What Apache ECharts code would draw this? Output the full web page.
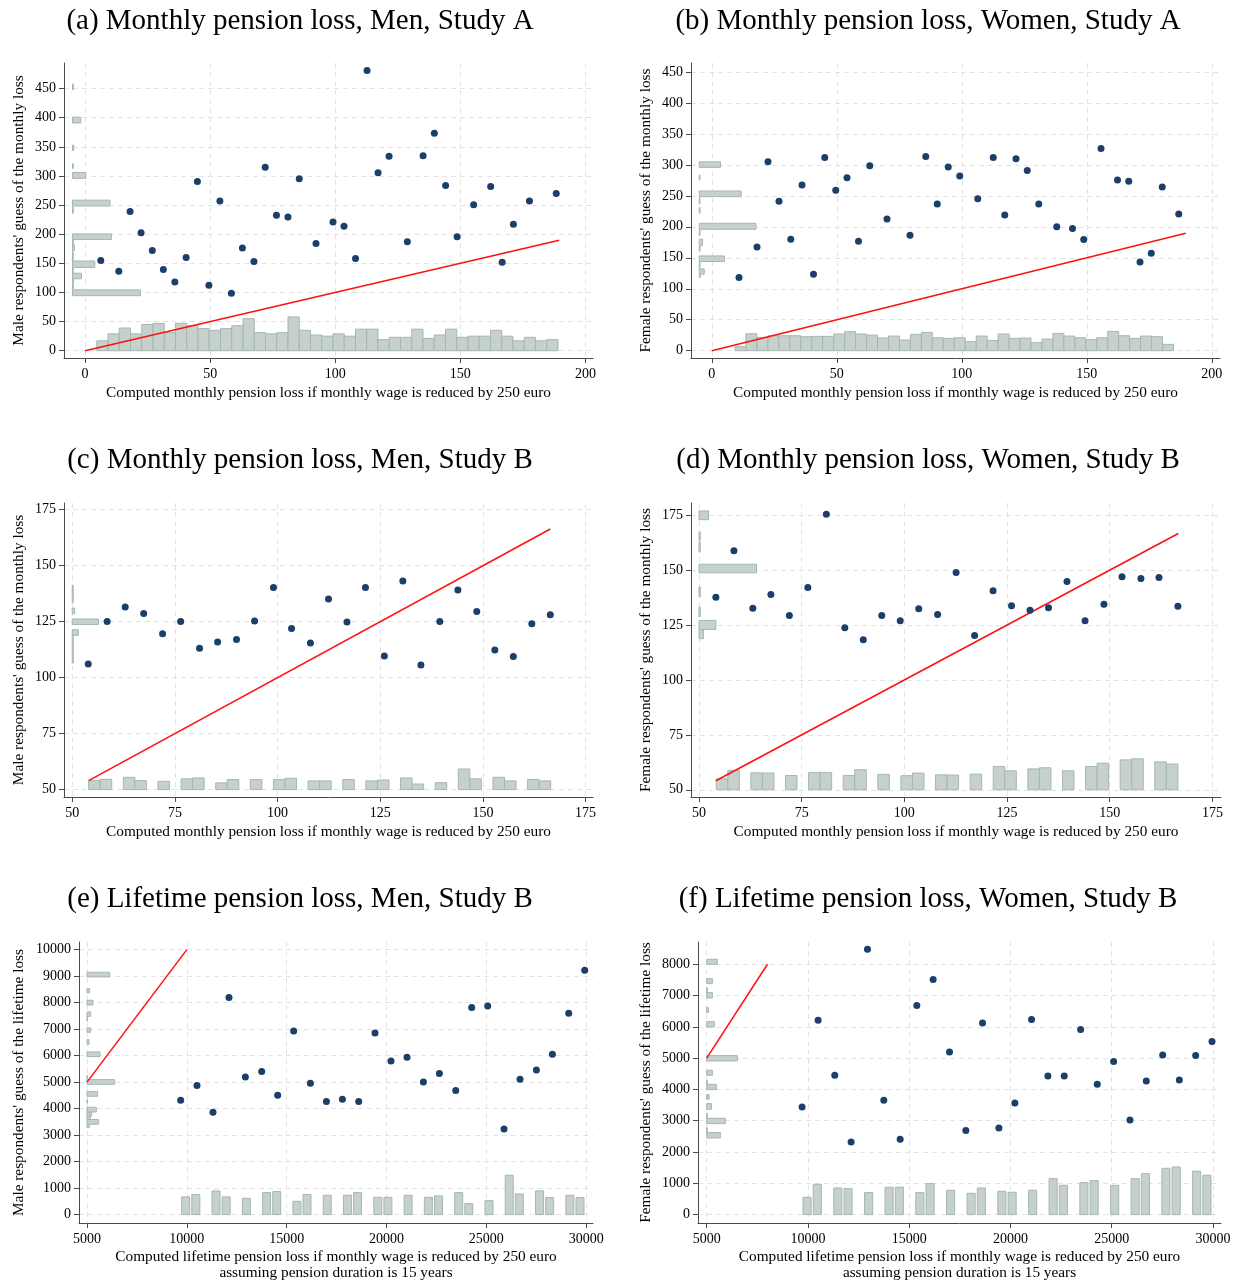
<!DOCTYPE html>
<html><head><meta charset="utf-8">
<script src="https://cdn.jsdelivr.net/npm/echarts@6/dist/echarts.min.js"></script>
<style>html,body{margin:0;padding:0;background:#fff}#c{width:1233px;height:1284px}</style>
</head><body><div id="c"></div>
<script>
// ---------------- DATA ----------------
const titles = [
  '(a) Monthly pension loss, Men, Study A',
  '(b) Monthly pension loss, Women, Study A',
  '(c) Monthly pension loss, Men, Study B',
  '(d) Monthly pension loss, Women, Study B',
  '(e) Lifetime pension loss, Men, Study B',
  '(f) Lifetime pension loss, Women, Study B'
];
const xNameMonthly = 'Computed monthly pension loss if monthly wage is reduced by 250 euro';
const xNameLifetime = 'Computed lifetime pension loss if monthly wage is reduced by 250 euro\nassuming pension duration is 15 years';
const yNames = [
  "Male respondents' guess of the monthly loss",
  "Female respondents' guess of the monthly loss",
  "Male respondents' guess of the monthly loss",
  "Female respondents' guess of the monthly loss",
  "Male respondents' guess of the lifetime loss",
  "Female respondents' guess of the lifetime loss"
];

const ticksStudyAX = [0, 50, 100, 150, 200];
const ticksStudyAY = [0, 50, 100, 150, 200, 250, 300, 350, 400, 450];
const ticksMonthlyB = [50, 75, 100, 125, 150, 175];
const ticksLifetimeX = [5000, 10000, 15000, 20000, 25000, 30000];
const ticksLifetimeMenY = [0, 1000, 2000, 3000, 4000, 5000, 6000, 7000, 8000, 9000, 10000];
const ticksLifetimeWomenY = [0, 1000, 2000, 3000, 4000, 5000, 6000, 7000, 8000];

// Panel (a)
const aPoints = [[6.3,154.7],[13.5,136.5],[18,239.2],[22.4,202.7],[26.9,171.9],[31.3,139.3],[35.9,118.2],[40.4,159.9],[44.9,290.6],[49.5,112.5],[53.9,256.9],[58.5,98.8],[62.9,176.4],[67.5,153],[72,315.2],[76.5,232.4],[81.1,229.5],[85.6,295.2],[92.3,183.9],[99.1,221],[103.5,213.5],[108.1,158.2],[112.7,481.3],[117.1,305.5],[121.5,334],[128.8,187.3],[135.1,334.6],[139.6,373.4],[144.1,283.8],[148.7,195.8],[155.3,250.7],[162.1,282.1],[166.7,151.9],[171.2,217],[177.6,256.9],[188.3,270.1]];
const aLine = [[0,0],[189.5,189.5]];
const aHistStart = 4.7, aHistWidth = 4.495;
const aHist = [17,29,39,29,45,47,31,47,43,38,35,38,43,55,31,29,31,58,35,27,25,29,25,37,37,19,23,23,37,21,27,37,23,25,25,35,25,17,23,17,19];
const aSide = [[94.5,104.5,27.2],[106,117,0.3],[118,123,0.5],[123.5,133,3.6],[133,142.5,0.3],[143,154,8.9],[155,170,0.3],[172,181.5,0.8],[181.5,190,0.3],[191,200.5,15.6],[236,247,0.3],[248.5,258.5,15],[296,306,5.3],[313,321,0.3],[344,353,0.5],[391,401,3.3],[448,458,0.3]];

// Panel (b)
const bPoints = [[10.9,118.2],[18.1,167.6],[22.5,305],[26.9,241.1],[31.6,179.9],[36.1,267.5],[40.7,123.5],[45.2,312],[49.6,258.9],[54.1,279.3],[58.7,176.7],[63.2,298.6],[70.1,212.7],[79.3,186.4],[85.6,313.6],[90.2,236.8],[94.6,296.5],[99.2,282],[106.4,245.4],[112.6,312],[117.2,219.1],[121.7,309.9],[126.2,291.1],[130.8,236.8],[138,200.3],[144.3,197.1],[148.8,179.4],[155.7,326.5],[162.3,275.5],[166.8,273.4],[171.3,143.4],[175.8,157.4],[180.2,264.2],[186.8,220.7]];
const bLine = [[0,0],[189.6,189.6]];
const bHistStart = 9.3, bHistWidth = 4.385;
const bHist = [6.4,27.4,21.5,24.2,24.2,24.2,22.6,23.1,23.1,26.9,30.6,26.9,25.2,20.4,23.6,17.2,26.3,29.5,20.9,19.9,20.9,14.5,23.6,16.6,26.9,19.9,20.4,12.9,18.8,27.9,23.6,20.9,17.7,20.9,31.1,24.2,19.9,23.6,22.6,10.2];
const bSide = [[118,123,0.4],[123.5,132,2],[133,143,0.3],[144,153,10.1],[160,169,0.3],[170,180,1.3],[186,195,0.3],[196,205.7,22.7],[222,231,0.3],[237,247,0.3],[248.7,257.8,16.8],[275.5,283.6,0.3],[296,305,8.5]];

// Panel (c)
const cPoints = [[53.9,106.1],[58.5,125.1],[62.9,131.5],[67.4,128.7],[72,119.6],[76.4,125.1],[81,113.1],[85.4,115.9],[90,117],[94.4,125.3],[99,140.3],[103.4,121.9],[108,115.5],[112.4,135.1],[116.9,124.9],[121.4,140.3],[126,109.7],[130.5,143.2],[134.9,105.7],[139.5,125.1],[143.9,139.1],[148.5,129.5],[152.9,112.4],[157.4,109.5],[161.9,124.1],[166.4,128.1]];
const cLine = [[54,54],[166.4,166.4]];
const cHistStart = 54, cHistWidth = 2.8125;
const cHist = [4.0,4.6,0,5.5,4.0,0,3.7,0,4.8,5.2,0,3.0,4.5,0,4.5,0,4.5,5.1,0,3.9,3.9,0,4.5,0,3.9,4.3,0,5.2,2.5,0,3.1,0,9.2,4.8,0,5.5,3.9,0,4.5,3.9];
const cSide = [[106.5,109,0.25],[109,111.5,0.25],[111.5,114,0.25],[114,116.5,0.25],[116.5,118.9,0.25],[118.9,121.4,1.5],[123.7,126.2,6.4],[128.6,131.1,0.6],[133.6,136.1,0.25],[136.1,138.6,0.25],[138.6,141.1,0.25]];

// Panel (d)
const dPoints = [[54.1,137.7],[58.5,158.9],[63.1,132.7],[67.5,138.9],[72,129.4],[76.5,142.1],[81,175.5],[85.5,123.8],[90,118.3],[94.5,129.4],[99,127],[103.5,132.4],[108.1,129.8],[112.6,148.9],[117.1,120.2],[121.6,140.6],[126.1,133.8],[130.6,131.8],[135.1,132.9],[139.6,144.8],[144,127],[148.6,134.5],[153,147],[157.6,146.2],[162,146.7],[166.6,133.6]];
const dLine = [[54.1,54.1],[166.7,166.7]];
const dHistStart = 54.2, dHistWidth = 2.81;
const dHist = [5.0,8.8,0,7.7,7.6,0,6.5,0,7.9,7.9,0,6.5,9.1,0,7.0,0,6.4,7.6,0,6.8,6.7,0,7.1,0,10.6,8.6,0,9.5,10,0,8.6,0,10.6,12.1,0,13.6,14.1,0,12.7,11.7];
const dSide = [[118.8,123,1.1],[123,127.1,4.1],[128.8,133.3,0.3],[137.9,142.4,0.3],[148.8,152.7,14],[158.3,162.9,0.3],[163.6,167.4,0.3],[173,177,2.3]];

// Panel (e)
const ePoints = [[9692,4314],[10509,4868],[11310,3862],[12111,8189],[12933,5195],[13749,5396],[14550,4503],[15351,6931],[16188,4956],[16989,4264],[17790,4352],[18607,4264],[19423,6855],[20224,5799],[21026,5937],[21847,5006],[22648,5321],[23465,4679],[24266,7811],[25067,7874],[25884,3233],[26685,5107],[27506,5459],[28307,6050],[29124,7597],[29925,9220]];
const eLine = [[5000,5000],[10000,10000]];
const eHistStart = 9743, eHistWidth = 506.3;
const eHist = [667,755,0,893,667,0,616,0,830,868,0,503,755,0,730,0,730,830,0,654,654,0,730,0,654,704,0,830,415,0,528,0,1484,780,0,893,642,0,730,642];
const eSide = [[3283,3409,117],[3409,3585,584],[3585,3723,167],[3723,3874,234],[3874,4050,467],[4200,4340,30],[4465,4642,534],[4918,5094,1386],[5100,5250,30],[5962,6138,651],[6428,6604,100],[6881,7044,184],[7300,7480,30],[7484,7648,184],[7912,8088,300],[8365,8528,134],[8969,9145,1135]];

// Panel (f)
const fPoints = [[9710,3441],[10501,6211],[11324,4453],[12131,2322],[12938,8480],[13745,3654],[14552,2408],[15375,6679],[16182,7510],[16989,5199],[17796,2685],[18620,6126],[19427,2770],[20217,3569],[21040,6232],[21848,4432],[22655,4432],[23462,5912],[24285,4165],[25092,4890],[25899,3025],[26705,4272],[27515,5103],[28336,4304],[29144,5082],[29951,5529]];
const fLine = [[5000,5000],[8000,8000]];
const fHistStart = 9755, fHistWidth = 506.3;
const fHist = [554,969,0,852,831,0,703,0,874,874,0,703,991,0,778,0,682,852,0,746,714,0,778,0,1150,937,0,1023,1087,0,937,0,1150,1310,0,1481,1523,0,1385,1257];
const fSide = [[2450,2621,675],[2621,2780,30],[2908,3079,922],[3079,3240,30],[3366,3548,231],[3686,3835,115],[3995,4165,478],[4165,4300,30],[4453,4613,280],[4911,5082,1515],[5998,6168,379],[6456,6616,82],[6924,7095,280],[7095,7250,30],[7383,7542,280],[8000,8160,527]];

// ---------------- LAYOUT / STYLE ----------------
const FONT = '"Liberation Serif", "DejaVu Serif", serif';
const AXIS = '#4a4a4a';
const GRIDC = '#e3e3e3';
const HIST_FILL = '#c6d0cc';
const HIST_STROKE = '#a6b7b0';

const panels = [
  {left:64, top:63, width:529, height:295, xMin:-8.4, xMax:203, yMin:-12.5, yMax:494,
   xTicks:ticksStudyAX, yTicks:ticksStudyAY, xName:xNameMonthly, yGap:38, xGap:27,
   pts:aPoints, line:aLine, hs:aHistStart, hw:aHistWidth, hist:aHist, base:0, frac:1, side:aSide, sideBase:-5},
  {left:691, top:63, width:529, height:295, xMin:-8.3, xMax:203.3, yMin:-11.8, yMax:464.5,
   xTicks:ticksStudyAX, yTicks:ticksStudyAY, xName:xNameMonthly, yGap:38, xGap:27,
   pts:bPoints, line:bLine, hs:bHistStart, hw:bHistWidth, hist:bHist, base:0, frac:1, side:bSide, sideBase:-5},
  {left:64, top:503, width:529, height:294, xMin:48, xMax:176.8, yMin:46.7, yMax:178,
   xTicks:ticksMonthlyB, yTicks:ticksMonthlyB, xName:xNameMonthly, yGap:38, xGap:27,
   pts:cPoints, line:cLine, hs:cHistStart, hw:cHistWidth, hist:cHist, base:50, frac:1, side:cSide, sideBase:50},
  {left:691, top:503, width:530, height:294, xMin:48.05, xMax:177.1, yMin:46.7, yMax:180.6,
   xTicks:ticksMonthlyB, yTicks:ticksMonthlyB, xName:xNameMonthly, yGap:38, xGap:27,
   pts:dPoints, line:dLine, hs:dHistStart, hw:dHistWidth, hist:dHist, base:50, frac:1, side:dSide, sideBase:50},
  {left:79, top:942, width:514, height:281, xMin:4600, xMax:30340, yMin:-317, yMax:10287,
   xTicks:ticksLifetimeX, yTicks:ticksLifetimeMenY, xName:xNameLifetime, yGap:53, xGap:26,
   pts:ePoints, line:eLine, hs:eHistStart, hw:eHistWidth, hist:eHist, base:0, frac:0.79, side:eSide, sideBase:5000},
  {left:698, top:942, width:523, height:281, xMin:4570, xMax:30395, yMin:-268, yMax:8712,
   xTicks:ticksLifetimeX, yTicks:ticksLifetimeWomenY, xName:xNameLifetime, yGap:45, xGap:26,
   pts:fPoints, line:fLine, hs:fHistStart, hw:fHistWidth, hist:fHist, base:0, frac:0.79, side:fSide, sideBase:5000}
];
const titlePos = [[300,21],[928,21],[300,460],[928,460],[300,899],[928,899]];

function bottomRender(base, frac) {
  return function (params, api) {
    const x0 = api.value(0), x1 = api.value(1), h = api.value(2);
    const a = api.coord([x0, base]);
    const b = api.coord([x0 + (x1 - x0) * frac, base + h]);
    return {type:'rect', shape:{x:a[0], y:b[1], width:b[0]-a[0], height:a[1]-b[1]},
      style:{fill:HIST_FILL, stroke:HIST_STROKE, lineWidth:1}};
  };
}
function sideRender(base) {
  return function (params, api) {
    const y0 = api.value(0), y1 = api.value(1), len = api.value(2);
    const a = api.coord([base, y0]);
    const b = api.coord([base + len, y1]);
    return {type:'rect', shape:{x:a[0], y:b[1], width:Math.max(b[0]-a[0], 0.5), height:a[1]-b[1]},
      style:{fill:HIST_FILL, stroke:HIST_STROKE, lineWidth:1}};
  };
}

const grid = [], xAxis = [], yAxis = [], series = [], graphic = [];
panels.forEach((p, i) => {
  grid.push({left:p.left, top:p.top, width:p.width, height:p.height, containLabel:false, outerBoundsMode:'none'});
  const labelStyle = {fontFamily:FONT, fontSize:14, color:'#000', formatter: v => String(v), hideOverlap:false, showMinLabel:true, showMaxLabel:true};
  xAxis.push({type:'value', gridIndex:i, min:p.xMin, max:p.xMax,
    name:p.xName, nameLocation:'middle', nameGap:p.xGap,
    nameTextStyle:{fontFamily:FONT, fontSize:15.3, color:'#000', lineHeight:16},
    axisLine:{show:true, onZero:false, lineStyle:{color:AXIS, width:1}},
    axisTick:{show:true, length:5, customValues:p.xTicks, lineStyle:{color:AXIS}},
    axisLabel:Object.assign({customValues:p.xTicks, margin:9}, labelStyle),
    splitLine:{show:true, lineStyle:{color:GRIDC, type:[5,4], width:1}}});
  yAxis.push({type:'value', gridIndex:i, min:p.yMin, max:p.yMax,
    name:yNames[i], nameLocation:'middle', nameGap:p.yGap, nameRotate:90,
    nameTextStyle:{fontFamily:FONT, fontSize:15.3, color:'#000'},
    axisLine:{show:true, onZero:false, lineStyle:{color:AXIS, width:1}},
    axisTick:{show:true, length:5, customValues:p.yTicks, lineStyle:{color:AXIS}},
    axisLabel:Object.assign({customValues:p.yTicks, margin:8}, labelStyle),
    splitLine:{show:true, lineStyle:{color:GRIDC, type:[5,4], width:1}}});

  const bottomData = [];
  p.hist.forEach((h, k) => { if (h > 0) bottomData.push([p.hs + k * p.hw, p.hs + (k + 1) * p.hw, h]); });
  series.push({type:'custom', xAxisIndex:i, yAxisIndex:i, data:bottomData, encode:{x:[0,1], y:2},
    renderItem:bottomRender(p.base, p.frac), silent:true, z:1});
  series.push({type:'custom', xAxisIndex:i, yAxisIndex:i, data:p.side, encode:{x:2, y:[0,1]},
    renderItem:sideRender(p.sideBase), silent:true, z:1});
  series.push({type:'line', xAxisIndex:i, yAxisIndex:i, data:p.line, symbol:'none', showSymbol:false,
    lineStyle:{color:'#ff1010', width:1.5}, silent:true, z:2});
  series.push({type:'scatter', xAxisIndex:i, yAxisIndex:i, data:p.pts, symbolSize:7,
    itemStyle:{color:'#1a3f68', opacity:1}, silent:true, z:3});

  graphic.push({type:'text', x:titlePos[i][0], y:titlePos[i][1],
    style:{text:titles[i], fontFamily:FONT, fontSize:29, fill:'#000', textAlign:'center', textVerticalAlign:'middle'}});
});

const chart = echarts.init(document.getElementById('c'), null, {renderer:'canvas'});
chart.setOption({backgroundColor:'#fff', animation:false, grid, xAxis, yAxis, series, graphic});
</script>
</body></html>
